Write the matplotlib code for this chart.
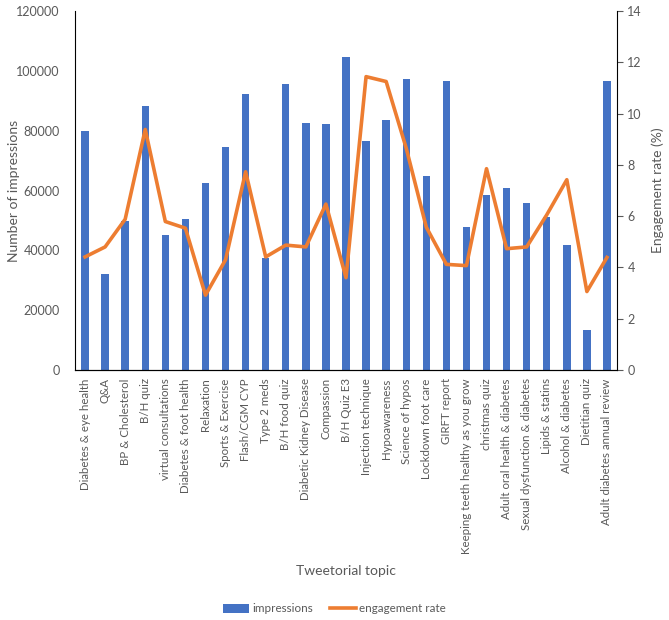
import matplotlib.pyplot as plt
import numpy as np

topics = ["Diabetes & eye health", "Q&A", "BP & Cholesterol", "B/H quiz",
          "virtual consultations", "Diabetes & foot health", "Relaxation",
          "Sports & Exercise", "Flash/CGM CYP", "Type 2 meds", "B/H food quiz",
          "Diabetic Kidney Disease", "Compassion", "B/H Quiz E3",
          "Injection technique", "Hypoawareness", "Science of hypos",
          "Lockdown foot care", "GIRFT report", "Keeping teeth healthy as you grow",
          "christmas quiz", "Adult oral health & diabetes",
          "Sexual dysfunction & diabetes", "Lipids & statins", "Alcohol & diabetes",
          "Dietitian quiz", "Adult diabetes annual review"]
impressions = [79900, 32000, 49800, 88300, 45000, 50400, 62500, 74400, 92300,
               37500, 95600, 82600, 82200, 104700, 76700, 83500, 97200, 64900,
               96500, 47800, 58500, 60900, 55900, 51200, 41700, 13400, 96500]
engagement = [4.41, 4.8, 5.88, 9.38, 5.79, 5.53, 2.92, 4.3, 7.73, 4.41, 4.87,
              4.8, 6.47, 3.6, 11.44, 11.25, 8.65, 5.57, 4.12, 4.07, 7.85, 4.73,
              4.8, 6.05, 7.42, 3.06, 4.39]

grey = '#595959'
plt.rcParams['font.family'] = ['Lato', 'DejaVu Sans']

fig = plt.figure(figsize=(6.69, 6.2), dpi=100)
ax = fig.add_axes([75 / 669, 1 - 370 / 620, (617 - 75) / 669, (370 - 11) / 620])
x = np.arange(len(topics))

bars = ax.bar(x, impressions, width=0.37, color='#4472C4', label='impressions')
ax.set_xlim(-0.5, len(topics) - 0.5)
ax.set_ylim(0, 120000)
ax.set_yticks(range(0, 120001, 20000))
ax.set_xticks(x)
ax.set_xticklabels(topics, rotation=90, fontsize=8.3, color=grey)
ax.tick_params(axis='both', length=0, colors=grey, labelsize=9)
ax.tick_params(axis='x', labelsize=8.3, pad=6)
ax.tick_params(axis='y', pad=11)
ax.set_ylabel('Number of impressions', color=grey, fontsize=10)
ax.yaxis.set_label_coords(-0.102, 0.5)
ax.set_xlabel('Tweetorial topic', color=grey, fontsize=10, labelpad=8)
ax.spines['top'].set_visible(False)
ax.spines['right'].set_visible(False)

ax2 = ax.twinx()
line, = ax2.plot(x, engagement, color='#ED7D31', lw=2.6, label='engagement rate')
ax2.set_ylim(0, 14)
ax2.set_yticks(range(0, 15, 2))
ax2.tick_params(axis='y', colors=grey, labelsize=9, length=4, direction='out')
ax2.set_ylabel('Engagement rate (%)', color=grey, fontsize=10)
ax2.yaxis.set_label_coords(1.064, 0.5)
ax2.spines['top'].set_visible(False)
ax2.spines['left'].set_visible(False)
ax2.spines['right'].set_color('black')

fig.legend([bars, line], ['impressions', 'engagement rate'], loc='center',
           bbox_to_anchor=(0.5, 1 - 609 / 620), ncol=2, frameon=False,
           fontsize=8.4, handlelength=2.2, handletextpad=0.3, columnspacing=1.5,
           labelcolor=grey)

fig.savefig('out.png', dpi=100)
